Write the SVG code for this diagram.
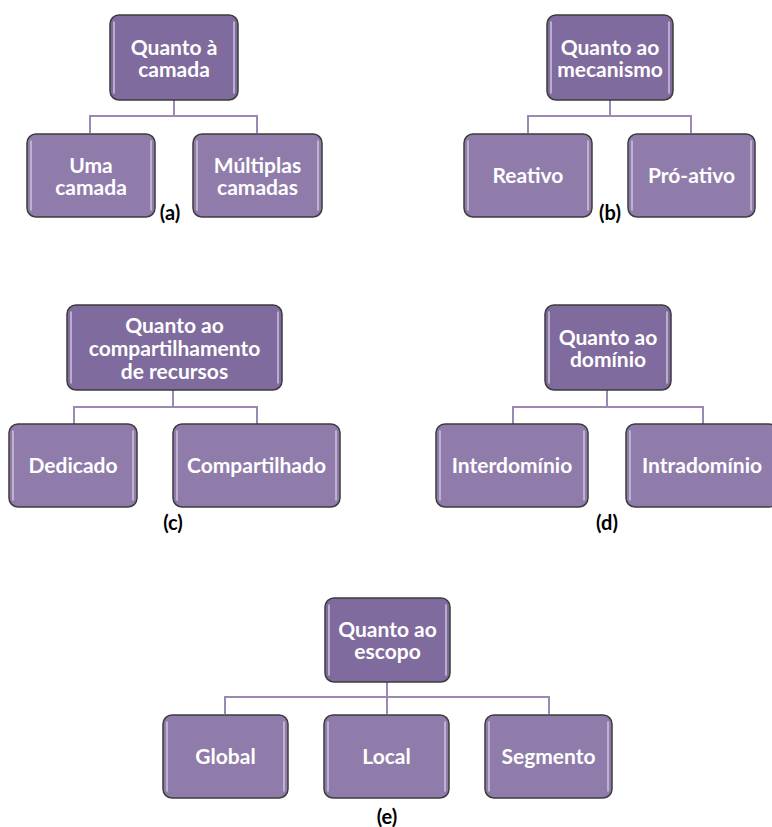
<svg xmlns="http://www.w3.org/2000/svg" width="772" height="827" viewBox="0 0 772 827">
<defs>
<style>
.bg{fill:#ffffff}
.parent{fill:#7f6b9d;stroke:#3c3c3c;stroke-width:1.5}
.child{fill:#8f7cab;stroke:#3c3c3c;stroke-width:1.5}
.gloss{stroke:#cfc4dd;stroke-width:1.5;fill:none;stroke-linecap:round}
.t{font-family:Lato,"Open Sans","Liberation Sans",sans-serif;font-weight:bold;font-size:21px;fill:#ffffff;text-anchor:middle}
.lab{font-family:Lato,"Open Sans","Liberation Sans",sans-serif;font-weight:bold;font-size:20px;fill:#000000;text-anchor:middle}
.con{fill:none;stroke:#9b88b5;stroke-width:2}
</style>
</defs>
<rect class="bg" x="0" y="0" width="772" height="827"/>

<g id="connectors">
<path class="con" d="M174,100 V116 M90,133 V116 H257 V133"/>
<path class="con" d="M610,100 V116 M528,133 V116 H691 V133"/>
<path class="con" d="M173,390 V407 M74,424 V407 H257 V424"/>
<path class="con" d="M607,390 V407 M513,424 V407 H703 V424"/>
<path class="con" d="M387,682 V697 M225,714 V697 H549 V714 M387,697 V714"/>
</g>

<!-- (a) -->
<g id="a-root">
<rect class="parent" x="110" y="15" width="128" height="85" rx="9"/>
<path class="gloss" d="M114,22 V93 M234,22 V93"/>
<text class="t" x="174" y="55">Quanto à<tspan x="174" dy="22">camada</tspan></text>
</g>
<g id="a-uma">
<rect class="child" x="27" y="134" width="128" height="83" rx="9"/>
<path class="gloss" d="M31,141 V210 M151,141 V210"/>
<text class="t" x="91" y="173">Uma<tspan x="91" dy="22">camada</tspan></text>
</g>
<g id="a-multiplas">
<rect class="child" x="193" y="134" width="129" height="83" rx="9"/>
<path class="gloss" d="M197,141 V210 M318,141 V210"/>
<text class="t" x="257.5" y="173">Múltiplas<tspan x="257.5" dy="22">camadas</tspan></text>
</g>
<text class="lab" x="170" y="220">(a)</text>

<!-- (b) -->
<g id="b-root">
<rect class="parent" x="547" y="15" width="126" height="85" rx="9"/>
<path class="gloss" d="M551,22 V93 M669,22 V93"/>
<text class="t" x="610" y="55">Quanto ao<tspan x="610" dy="22">mecanismo</tspan></text>
</g>
<g id="b-reativo">
<rect class="child" x="464" y="134" width="128" height="83" rx="9"/>
<path class="gloss" d="M468,141 V210 M588,141 V210"/>
<text class="t" x="528" y="183">Reativo</text>
</g>
<g id="b-proativo">
<rect class="child" x="628" y="134" width="127" height="83" rx="9"/>
<path class="gloss" d="M632,141 V210 M751,141 V210"/>
<text class="t" x="691.5" y="183">Pró-ativo</text>
</g>
<text class="lab" x="610" y="220">(b)</text>

<!-- (c) -->
<g id="c-root">
<rect class="parent" x="67" y="305" width="215" height="85" rx="9"/>
<path class="gloss" d="M71,312 V383 M278,312 V383"/>
<text class="t" x="174.5" y="333">Quanto ao<tspan x="174.5" dy="23">compartilhamento</tspan><tspan x="174.5" dy="23">de recursos</tspan></text>
</g>
<g id="c-dedicado">
<rect class="child" x="9" y="424" width="128" height="83" rx="9"/>
<path class="gloss" d="M13,431 V500 M133,431 V500"/>
<text class="t" x="73" y="473">Dedicado</text>
</g>
<g id="c-compartilhado">
<rect class="child" x="173" y="424" width="167" height="83" rx="9"/>
<path class="gloss" d="M177,431 V500 M336,431 V500"/>
<text class="t" x="256.5" y="473">Compartilhado</text>
</g>
<text class="lab" x="173" y="530">(c)</text>

<!-- (d) -->
<g id="d-root">
<rect class="parent" x="545" y="305" width="126" height="85" rx="9"/>
<path class="gloss" d="M549,312 V383 M667,312 V383"/>
<text class="t" x="608" y="345">Quanto ao<tspan x="608" dy="22">domínio</tspan></text>
</g>
<g id="d-inter">
<rect class="child" x="436" y="424" width="152" height="83" rx="9"/>
<path class="gloss" d="M440,431 V500 M584,431 V500"/>
<text class="t" x="512" y="473">Interdomínio</text>
</g>
<g id="d-intra">
<rect class="child" x="626" y="424" width="152" height="83" rx="9"/>
<path class="gloss" d="M630,431 V500"/>
<text class="t" x="702" y="473">Intradomínio</text>
</g>
<text class="lab" x="607" y="530">(d)</text>

<!-- (e) -->
<g id="e-root">
<rect class="parent" x="325" y="598" width="125" height="84" rx="9"/>
<path class="gloss" d="M329,605 V675 M446,605 V675"/>
<text class="t" x="387.5" y="637">Quanto ao<tspan x="387.5" dy="22">escopo</tspan></text>
</g>
<g id="e-global">
<rect class="child" x="163" y="715" width="125" height="83" rx="9"/>
<path class="gloss" d="M167,722 V791 M284,722 V791"/>
<text class="t" x="225.5" y="764">Global</text>
</g>
<g id="e-local">
<rect class="child" x="324" y="715" width="125" height="83" rx="9"/>
<path class="gloss" d="M328,722 V791 M445,722 V791"/>
<text class="t" x="386.5" y="764">Local</text>
</g>
<g id="e-segmento">
<rect class="child" x="485" y="715" width="127" height="83" rx="9"/>
<path class="gloss" d="M489,722 V791 M608,722 V791"/>
<text class="t" x="548.5" y="764">Segmento</text>
</g>
<text class="lab" x="387" y="824">(e)</text>
</svg>
